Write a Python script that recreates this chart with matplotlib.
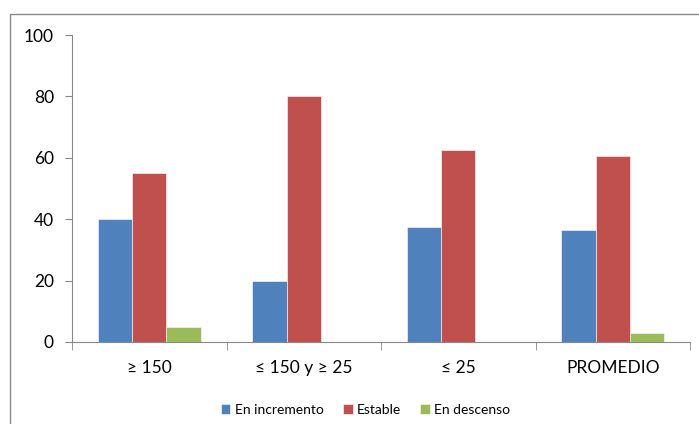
import matplotlib
matplotlib.use("Agg")
import matplotlib.pyplot as plt
import matplotlib.patches as mpatches
import numpy as np

categories = ["≥ 150", "≤ 150 y ≥ 25", "≤ 25", "PROMEDIO"]
series_names = ["En incremento", "Estable", "En descenso"]
en_incremento = [40, 20, 37.5, 36.4]
estable = [55, 80, 62.5, 60.6]
en_descenso = [5, 0, 0, 3.0]
colors = ["#4F81BD", "#C0504D", "#9BBB59"]

plt.rcParams["font.family"] = ["Lato", "DejaVu Sans"]

fig = plt.figure(figsize=(6.99, 4.24), dpi=100)
ax = fig.add_axes([72 / 699, 1 - 342 / 424, 618 / 699, 307 / 424])

# outer chart border
fig.patches.append(mpatches.Rectangle((10 / 699, -0.1), 1.2, 1 - 14 / 424 + 0.1,
                                      transform=fig.transFigure, fill=False,
                                      edgecolor="#888888", linewidth=1.0))

x = np.arange(len(categories))
w = 0.223
for i, (vals, name) in enumerate(zip([en_incremento, estable, en_descenso], series_names)):
    ax.bar(x + (i - 1) * w, vals, w, color=colors[i], label=name,
           edgecolor="white", linewidth=0.4)

ax.set_xlim(-0.5, len(categories) - 0.5)
ax.set_ylim(0, 100)
ax.set_yticks([0, 20, 40, 60, 80, 100])
ax.set_xticks(x)
ax.set_xticklabels(categories, fontsize=12.5)
ax.set_xticks(np.arange(-0.5, len(categories)), minor=True)
ax.tick_params(axis="x", which="major", length=0, pad=13)
ax.tick_params(axis="x", which="minor", length=6, color="#888888", direction="out")
ax.tick_params(axis="y", length=5, color="#888888", labelsize=12.5, pad=8)

for s in ["top", "right"]:
    ax.spines[s].set_visible(False)
for s in ["left", "bottom"]:
    ax.spines[s].set_color("#888888")

ax.legend(loc="center", bbox_to_anchor=(0.475, -0.22), ncol=3, frameon=False,
          fontsize=10, handlelength=0.7, handleheight=0.7, handletextpad=0.3,
          columnspacing=1.4)

fig.savefig("out.png", dpi=100)
